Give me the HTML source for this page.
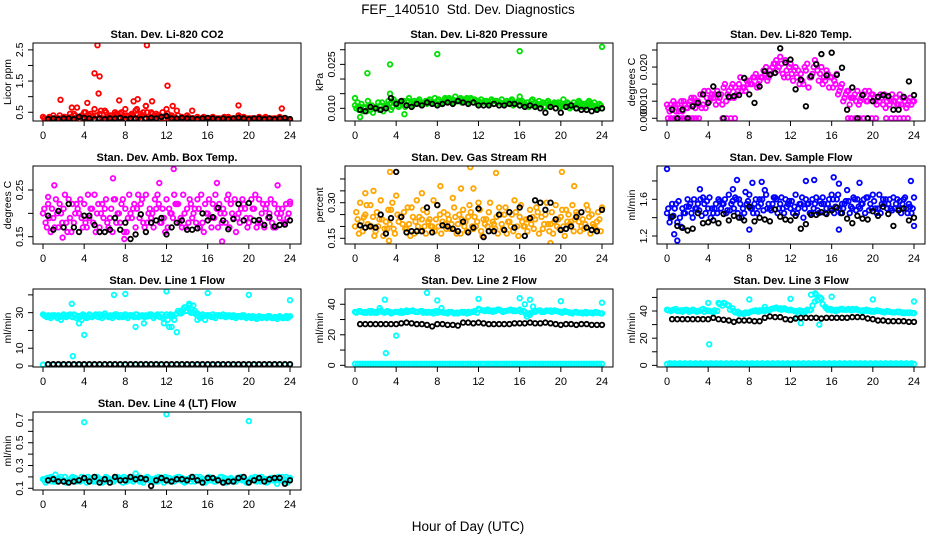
<!DOCTYPE html>
<html><head><meta charset="utf-8"><title>FEF_140510 Std. Dev. Diagnostics</title>
<style>
html,body{margin:0;padding:0;background:#fff;}
svg{display:block;font-family:"Liberation Sans",Arial,sans-serif;}
</style></head>
<body>
<svg id="chart" width="936" height="540" viewBox="0 0 936 540" xmlns="http://www.w3.org/2000/svg">
<rect x="0" y="0" width="936" height="540" fill="#fff"/>
<text x="468" y="14" text-anchor="middle" font-size="13.5">FEF_140510&#160; Std. Dev. Diagnostics</text>
<text x="468" y="531" text-anchor="middle" font-size="13.5">Hour of Day (UTC)</text>
</svg>
<script>
// ---- data ----
const xTicks = [0,4,8,12,16,20,24];
const titles = ["Stan. Dev. Li-820 CO2","Stan. Dev. Li-820 Pressure","Stan. Dev. Li-820 Temp.","Stan. Dev. Amb. Box Temp.","Stan. Dev. Gas Stream RH","Stan. Dev. Sample Flow","Stan. Dev. Line 1 Flow","Stan. Dev. Line 2 Flow","Stan. Dev. Line 3 Flow","Stan. Dev. Line 4 (LT) Flow"];
const yLabels = ["Licor ppm","kPa","degrees C","degrees C","percent","ml/min","ml/min","ml/min","ml/min","ml/min"];
const yMin = [0.22,0.00567,-0.0008,0.1344,0.126,1.113,-0.56,-1.1,-1.2,0.085];
const yMax = [2.72,0.0323,0.02205,0.3014,0.4547,1.963,43.3,50,56.2,0.77];
const yTicks = [[0.5,1,1.5,2,2.5],[0.01,0.015,0.02,0.025,0.03],[0,0.005,0.01,0.015,0.02],[0.15,0.2,0.25],[0.15,0.2,0.25,0.3,0.35,0.4],[1.2,1.4,1.6,1.8],[0,10,20,30,40],[0,10,20,30,40],[0,10,20,30,40,50],[0.1,0.2,0.3,0.4,0.5,0.6,0.7]];
const yTickLabels = [["0.5","","1.5","","2.5"],["0.010","","","0.025",""],["0.000","0.010","","0.020",""],["0.15","","0.25"],["0.15","","","0.30","",""],["1.2","","1.6",""],["0","10","","30",""],["0","","20","","40"],["0","","20","","40",""],["0.1","","0.3","","0.5","","0.7"]];
const colors = ["#ff0000","#00e000","#ff00ff","#ff00ff","#ffa500","#0000ff","#00ffff","#00ffff","#00ffff","#00ffff"];

const seriesA = [
[0.35,0.3,0.4,0.3,0.35,0.3,0.45,0.35,0.5,0.4,0.6,0.45,0.55,0.4,0.5,0.45,0.6,0.4,0.55,0.45,0.7,0.5,0.45,0.35,0.6,0.4,0.55,0.35,0.4,0.3,0.35,0.3,0.3,0.35,0.3,0.3,0.35,0.3,0.4,0.35,0.3,0.3,0.35,0.3,0.3,0.3,0.35,0.3,0.25],
[0.0110,0.0105,0.0100,0.0095,0.0105,0.0110,0.0100,0.0095,0.0115,0.0120,0.0110,0.0115,0.0120,0.0110,0.0115,0.0120,0.0125,0.0120,0.0125,0.0130,0.0125,0.0130,0.0125,0.0120,0.0125,0.0120,0.0120,0.0115,0.0120,0.0115,0.0120,0.0115,0.0110,0.0115,0.0110,0.0120,0.0110,0.0105,0.0110,0.0115,0.0105,0.0110,0.0105,0.0100,0.0105,0.0110,0.0105,0.0100,0.0100],
[0.004,0.003,0.004,0.002,0.003,0.004,0.005,0.004,0.008,0.006,0.005,0.009,0.008,0.006,0.010,0.009,0.011,0.012,0.011,0.013,0.014,0.016,0.018,0.017,0.016,0.015,0.013,0.014,0.012,0.016,0.015,0.014,0.012,0.013,0.010,0.008,0.006,0.008,0.007,0.005,0.007,0.006,0.004,0.006,0.005,0.004,0.006,0.005,0.005],
[0.20,0.22,0.19,0.17,0.21,0.23,0.18,0.20,0.22,0.19,0.24,0.17,0.21,0.19,0.23,0.18,0.21,0.20,0.17,0.22,0.24,0.19,0.21,0.18,0.23,0.20,0.22,0.17,0.21,0.19,0.23,0.18,0.20,0.22,0.17,0.21,0.24,0.19,0.20,0.22,0.18,0.21,0.23,0.17,0.20,0.22,0.19,0.18,0.22],
[0.20,0.30,0.25,0.29,0.18,0.31,0.22,0.27,0.33,0.24,0.19,0.28,0.31,0.23,0.26,0.20,0.29,0.22,0.25,0.32,0.21,0.27,0.24,0.19,0.30,0.23,0.26,0.21,0.28,0.25,0.22,0.31,0.24,0.20,0.27,0.23,0.30,0.25,0.21,0.29,0.24,0.27,0.22,0.26,0.20,0.29,0.25,0.22,0.28],
[1.45,1.55,1.35,1.5,1.6,1.4,1.55,1.62,1.5,1.45,1.6,1.55,1.65,1.5,1.6,1.45,1.65,1.55,1.6,1.7,1.5,1.62,1.55,1.6,1.5,1.65,1.55,1.6,1.45,1.62,1.55,1.5,1.65,1.6,1.55,1.7,1.5,1.6,1.55,1.62,1.65,1.5,1.6,1.55,1.62,1.5,1.6,1.55,1.62],
[29,28.5,28,28.5,29,28.5,29,28,28.5,29,28.5,29,29.5,28.5,29,28.5,29,28.5,29,28,28.5,29,28.5,29,29,28.5,29.5,30,31,30,29.5,29,28.5,29,28.5,29,28,28.5,28,28.5,28,27.5,28,27.5,28,27.5,28,27.5,28],
[35,35.5,35,34.5,35,36,35,34,35,35.5,36,35.5,35,35.5,34.5,35,34.5,35,34,34.5,34,34.5,35,35,37,36,35.5,36,36.5,35.5,36,36,36.5,35,33,35,36,35.5,36,35.5,35,35,34.5,35,34.5,34,34.5,34.5,34],
[41,40.5,40,39.5,40.5,41,40,41.5,40,39,46,46,44,40,38,38,39,40,40.5,40,41,42,42,41.5,41,40,39.5,40,41,52,49,42,40.5,41,41.5,41,41.5,41,40.5,40,40,40,39.5,39.5,39,39,39,38.5,38.5],
[0.18,0.17,0.19,0.18,0.17,0.16,0.18,0.17,0.19,0.18,0.17,0.18,0.16,0.18,0.19,0.17,0.18,0.17,0.18,0.16,0.18,0.17,0.19,0.17,0.18,0.17,0.18,0.19,0.17,0.18,0.17,0.18,0.17,0.19,0.18,0.17,0.18,0.17,0.18,0.17,0.16,0.18,0.17,0.18,0.17,0.18,0.17,0.18,0.19]
];
const seriesB = [
[0.25,0.3,0.25,0.3,0.3,0.35,0.3,0.4,0.3,0.35,0.4,0.3,0.35,0.3,0.45,0.3,0.35,0.4,0.3,0.5,0.35,0.3,0.4,0.3,0.35,0.3,0.25,0.3,0.25,0.3,0.3,0.25,0.3,0.3,0.25,0.3,0.25,0.3,0.3,0.25,0.3,0.25,0.3,0.3,0.25,0.3,0.25,0.25],
[0.0120,0.0090,0.0125,0.0085,0.0120,0.0090,0.0125,0.0130,0.0105,0.0125,0.0135,0.0125,0.0130,0.0120,0.0130,0.0135,0.0115,0.0135,0.0130,0.0140,0.0135,0.0130,0.0135,0.0125,0.0130,0.0125,0.0130,0.0125,0.0130,0.0125,0.0130,0.0120,0.0125,0.0120,0.0130,0.0115,0.0120,0.0125,0.0115,0.0120,0.0130,0.0115,0.0120,0.0125,0.0115,0.0125,0.0120,0.0115],
[0.002,0.004,0.003,0.004,0.005,0.003,0.007,0.003,0.006,0.004,0.007,0.005,0.009,0.007,0.008,0.011,0.010,0.009,0.012,0.011,0.015,0.014,0.013,0.012,0.011,0.014,0.010,0.009,0.015,0.011,0.012,0.009,0.011,0.008,0.006,0.004,0.007,0.005,0.008,0.006,0.005,0.007,0.003,0.005,0.006,0.004,0.003,0.004],
[0.18,0.16,0.23,0.20,0.18,0.16,0.22,0.19,0.17,0.21,0.20,0.22,0.18,0.16,0.20,0.23,0.19,0.21,0.24,0.18,0.20,0.17,0.22,0.19,0.21,0.24,0.18,0.20,0.23,0.21,0.17,0.22,0.19,0.24,0.20,0.18,0.22,0.16,0.21,0.19,0.23,0.17,0.20,0.22,0.18,0.20,0.21,0.19],
[0.23,0.18,0.21,0.24,0.20,0.16,0.27,0.19,0.22,0.26,0.21,0.17,0.24,0.20,0.23,0.18,0.25,0.21,0.19,0.24,0.17,0.22,0.26,0.20,0.18,0.23,0.19,0.24,0.21,0.17,0.25,0.20,0.22,0.18,0.24,0.26,0.19,0.21,0.17,0.23,0.20,0.25,0.18,0.22,0.19,0.24,0.20,0.23],
[1.35,1.5,1.4,1.45,1.55,1.5,1.6,1.45,1.4,1.55,1.5,1.45,1.55,1.6,1.4,1.55,1.5,1.45,1.6,1.5,1.55,1.45,1.5,1.55,1.45,1.5,1.4,1.55,1.5,1.45,1.55,1.6,1.45,1.5,1.55,1.45,1.6,1.5,1.45,1.55,1.5,1.45,1.6,1.5,1.55,1.45,1.5,1.45],
[28,27,28,26,27.5,28,27,26,27,27.5,28,27,28,27,28,27.5,27,28,27.5,28,28,27,28,24,22,26,30,33,34,31,27,26,28,27,28,27.5,28,27,27.5,27,27,26.5,27,27,27,26.5,27,27],
[1,1,1,1,1,1,1,1,1,1,1,1,1,1,1,1,1,1,1,1,1,1,1,1,1,1,1,1,1,1,1,1,1,1,1,1,1,1,1,1,1,1,1,1,1,1,1,1],
[1.5,1.5,1.5,1.5,1.5,1.5,1.5,1.5,1.5,1.5,1.5,1.5,1.5,1.5,1.5,1.5,1.5,1.5,1.5,1.5,1.5,1.5,1.5,1.5,1.5,1.5,1.5,1.5,1.5,1.5,1.5,1.5,1.5,1.5,1.5,1.5,1.5,1.5,1.5,1.5,1.5,1.5,1.5,1.5,1.5,1.5,1.5,1.5],
[0.15,0.2,0.16,0.2,0.15,0.19,0.16,0.2,0.15,0.18,0.2,0.15,0.19,0.16,0.2,0.15,0.19,0.16,0.2,0.15,0.19,0.16,0.2,0.15,0.19,0.16,0.2,0.15,0.19,0.16,0.2,0.15,0.19,0.16,0.2,0.15,0.19,0.16,0.2,0.15,0.19,0.16,0.2,0.15,0.19,0.14,0.2,0.15]
];
const seriesC = [
[0.3,0.35,0.3,0.4,0.35,0.45,0.4,0.35,0.5,0.45,0.4,0.55,0.5,0.4,0.45,0.5,0.4,0.45,0.6,0.4,0.5,0.45,0.4,0.5,0.45,0.35,0.4,0.3,0.35,0.3,0.3,0.35,0.3,0.3,0.3,0.35,0.3,0.3,0.35,0.3,0.3,0.3,0.3,0.35,0.3,0.3,0.3,0.3],
[0.0100,0.0115,0.0090,0.0110,0.0100,0.0120,0.0110,0.0105,0.0120,0.0115,0.0125,0.0110,0.0125,0.0115,0.0125,0.0120,0.0130,0.0125,0.0135,0.0120,0.0130,0.0125,0.0120,0.0130,0.0120,0.0125,0.0115,0.0125,0.0120,0.0115,0.0125,0.0115,0.0120,0.0110,0.0125,0.0110,0.0115,0.0120,0.0110,0.0115,0.0110,0.0120,0.0110,0.0115,0.0110,0.0120,0.0110,0.0105],
[0.003,0.005,0.002,0.005,0.004,0.006,0.004,0.008,0.005,0.007,0.006,0.010,0.006,0.009,0.012,0.008,0.010,0.013,0.012,0.015,0.013,0.017,0.016,0.014,0.013,0.012,0.011,0.016,0.013,0.014,0.010,0.013,0.009,0.007,0.005,0.008,0.006,0.004,0.007,0.008,0.006,0.005,0.007,0.004,0.005,0.007,0.005,0.006],
[0.21,0.19,0.17,0.22,0.24,0.19,0.20,0.23,0.18,0.21,0.16,0.20,0.23,0.21,0.18,0.22,0.16,0.19,0.21,0.23,0.18,0.20,0.24,0.21,0.17,0.19,0.22,0.24,0.18,0.20,0.21,0.16,0.23,0.19,0.22,0.20,0.17,0.23,0.18,0.21,0.19,0.24,0.18,0.21,0.23,0.17,0.20,0.22],
[0.26,0.22,0.29,0.20,0.26,0.23,0.19,0.30,0.25,0.21,0.28,0.24,0.20,0.27,0.22,0.31,0.20,0.26,0.23,0.28,0.25,0.20,0.29,0.24,0.27,0.21,0.30,0.19,0.25,0.28,0.20,0.26,0.29,0.23,0.21,0.28,0.24,0.30,0.26,0.20,0.27,0.22,0.29,0.25,0.23,0.27,0.21,0.26],
[1.5,1.42,1.58,1.45,1.52,1.6,1.48,1.55,1.62,1.5,1.58,1.6,1.48,1.62,1.55,1.68,1.5,1.6,1.55,1.65,1.48,1.6,1.62,1.52,1.58,1.45,1.62,1.55,1.6,1.48,1.62,1.55,1.6,1.65,1.5,1.58,1.62,1.52,1.6,1.48,1.58,1.65,1.55,1.6,1.5,1.58,1.62,1.52],
[28.5,28,28.5,27.5,28,29,28.5,27.5,28,28.5,29,28,28.5,28,29,28.5,28,28.5,29,28.5,28,28.5,29,27,26,28,31,32,32.5,30,28.5,28,28.5,28,28.5,28,28.5,28,28,28,27.5,27.5,27.5,27.5,27.5,27.5,27.5,28],
[34.5,35,34.5,35.5,34.5,35,35.5,34.5,35,34.5,35,36,35,34.5,35,34,35,34.5,35,34,34.5,35,34.5,35.5,36.5,35.5,36,35.5,36,35.5,36.5,35.5,35,33.5,34.5,35.5,35,36,35,35.5,34.5,35,34,34.5,34,34.5,34,34.5],
[40.5,41,40,40.5,39.5,40.5,40,39.5,40,40.5,45,45.5,41,39,38.5,39,39.5,40.5,40,41,41.5,42.5,41,41,40.5,39.5,40,41,44,48,45,41,41,40.5,41,41.5,41,40.5,40,40.5,39.5,40,39,39.5,39,39.5,38.5,39],
[0.17,0.19,0.16,0.18,0.2,0.17,0.19,0.16,0.18,0.19,0.16,0.18,0.2,0.17,0.18,0.19,0.16,0.18,0.19,0.17,0.2,0.18,0.16,0.19,0.17,0.18,0.2,0.16,0.18,0.19,0.17,0.18,0.2,0.16,0.17,0.19,0.18,0.16,0.19,0.18,0.17,0.2,0.16,0.18,0.19,0.17,0.18,0.2]
];
const seriesD = [
[0.25,0.3,0.3,0.25,0.3,0.3,0.35,0.3,0.3,0.35,0.3,0.3,0.35,0.3,0.3,0.35,0.3,0.3,0.35,0.3,0.3,0.35,0.3,0.3,0.3,0.25,0.3,0.3,0.25,0.25,0.3,0.3,0.25,0.3,0.3,0.25,0.3,0.3,0.25,0.3,0.3,0.25,0.3,0.25,0.3,0.25,0.3,0.25],
[0.0095,0.0105,0.0110,0.0100,0.0095,0.0105,0.0115,0.0120,0.0110,0.0105,0.0115,0.0120,0.0115,0.0125,0.0120,0.0115,0.0120,0.0130,0.0120,0.0125,0.0120,0.0135,0.0130,0.0115,0.0120,0.0115,0.0125,0.0120,0.0115,0.0120,0.0110,0.0125,0.0115,0.0105,0.0115,0.0125,0.0105,0.0115,0.0120,0.0105,0.0115,0.0100,0.0110,0.0120,0.0105,0.0115,0.0105,0.0110],
[0.004,0.002,0.005,0.003,0.006,0.005,0.003,0.006,0.007,0.008,0.004,0.007,0.010,0.008,0.009,0.010,0.012,0.010,0.014,0.012,0.016,0.015,0.012,0.015,0.014,0.010,0.015,0.012,0.017,0.013,0.011,0.012,0.010,0.009,0.007,0.006,0.005,0.006,0.005,0.007,0.004,0.006,0.005,0.007,0.004,0.006,0.004,0.005],
[0.17,0.21,0.20,0.18,0.16,0.22,0.21,0.17,0.24,0.18,0.22,0.19,0.17,0.23,0.20,0.16,0.24,0.22,0.19,0.17,0.21,0.23,0.18,0.16,0.20,0.22,0.19,0.17,0.22,0.18,0.24,0.20,0.17,0.21,0.18,0.23,0.20,0.19,0.23,0.17,0.21,0.18,0.22,0.19,0.17,0.21,0.18,0.20],
[0.17,0.24,0.20,0.16,0.23,0.19,0.21,0.17,0.24,0.19,0.16,0.22,0.18,0.17,0.20,0.23,0.17,0.19,0.21,0.17,0.23,0.18,0.20,0.22,0.16,0.20,0.22,0.17,0.19,0.22,0.18,0.16,0.20,0.23,0.19,0.17,0.21,0.18,0.22,0.19,0.16,0.21,0.23,0.18,0.21,0.17,0.19,0.18],
[1.4,1.55,1.3,1.52,1.45,1.5,1.42,1.58,1.5,1.45,1.55,1.48,1.58,1.45,1.5,1.58,1.45,1.52,1.48,1.55,1.62,1.5,1.45,1.58,1.52,1.55,1.5,1.45,1.55,1.58,1.45,1.5,1.52,1.45,1.58,1.52,1.48,1.55,1.62,1.5,1.45,1.55,1.5,1.48,1.6,1.55,1.45,1.5],
[27.5,28.5,27,28,28.5,27.5,28,29,27.5,28,27.5,28.5,27.5,28.5,27.5,28,28.5,27.5,28,27.5,29,28,27.5,28,29,29,29.5,31,30,29,28,28.5,27.5,28.5,28,28.5,27.5,28,28.5,27.5,28,27,27.5,28,27,27.5,27,27.5],
[35.5,34.5,35.5,34.5,35.5,34.5,35,35,34.5,35,35.5,35,35.5,35,34.5,35.5,35,34.5,35,34.5,35,34,35,34.5,36,36.5,35,36.5,35,36,35.5,36,35.5,34,35.5,36,35,35.5,36,35,35.5,34.5,35,34.5,35,34.5,35,34],
[40,41.5,40.5,41,40,39.5,41,40.5,39.5,40,44,44.5,42,39.5,38,38.5,40,39.5,41,40.5,42,41.5,42,40.5,40,40.5,39,40.5,47,50,43,41.5,40,41.5,41,40.5,41.5,40,41,39.5,40.5,39.5,40,39,39.5,38.5,39,38.5],
[0.19,0.16,0.18,0.17,0.16,0.2,0.17,0.18,0.2,0.16,0.19,0.17,0.18,0.16,0.19,0.2,0.17,0.19,0.16,0.19,0.17,0.16,0.18,0.2,0.16,0.19,0.17,0.18,0.16,0.2,0.18,0.16,0.17,0.18,0.2,0.17,0.16,0.19,0.17,0.16,0.19,0.17,0.18,0.16,0.17,0.2,0.16,0.18]
];
const outlierHours = [
[5.3,10.1,5,5.5,5.4,12.1,1.7,7.4,9.2,10.6,4.3,19,23.2,2.8,3.3,8.8,10,12.6,14.5],
[0,1.2,3.4,3.4,8,16,16,24,0.5,4.8],
[0.1,0.4,0.7,1,1.3,1.6,1.9,2.2,2.5,2.8,3.1,5.4,5.8,6.2,6.6,17.6,17.9,18.3,18.7,19.1,19.5,19.9,20.3,21.3,21.8,22.2,22.6,23,23.4],
[1.1,6.8,11.3,12.7,16.9,22.8,17.4,1.9,0.5,7.9,24],
[3.4,11.2,13.7,20.1,8.3,11.5,21.3,19,3.3,1,1.8,6.5,10.3],
[0,1,0.7,6.8,8.3,9.2,13.5,14.3,16.2,16.7,18.7,23.7,8,16.7,24,3.2,6.4],
[2.8,2.9,4,6.9,8,12,16,20,24,9,13,12.5,14.2,14.6,3.5,9.8,15],
[2.9,3,4,7,8,12,16,16.5,17,17.3,20,24,2.4,8.4,16.7],
[4.1,4,8,12,14,14.4,16,20,24,13,14.8,12.6,9.5],
[4,12,20,9,1.2]
];
const outlierValues = [
[2.65,2.65,1.75,1.65,1.1,1.35,0.9,0.88,0.92,0.85,0.8,0.72,0.62,0.65,0.65,0.85,0.7,0.7,0.55],
[0.0135,0.022,0.025,0.015,0.0285,0.0295,0.014,0.031,0.007,0.008],
[0,0,0,0,0,0,0,0,0,0,0,0,0,0,0,0,0,0,0,0,0,0,0,0,0,0,0,0,0],
[0.26,0.275,0.265,0.295,0.265,0.26,0.14,0.148,0.235,0.145,0.225],
[0.43,0.45,0.425,0.43,0.37,0.36,0.37,0.13,0.14,0.34,0.35,0.34,0.36],
[1.93,1.15,1.22,1.81,1.78,1.79,1.8,1.81,1.84,1.77,1.78,1.8,1.27,1.27,1.31,1.71,1.71],
[35,5.5,17.5,40,40.5,42,41,40,37,22,19,22,35,34,24,24,26],
[43,8,19.5,47.5,42.5,43.5,44,40,43,38.5,42,41,37.5,37.5,32],
[15.5,46,48.5,49,52,53,50.5,48.5,47,31,30,35,43],
[0.68,0.75,0.69,0.23,0.22]
];
const seriesBlack = [
[0.28,0.3,0.28,0.3,0.3,0.28,0.35,0.32,0.3,0.28,0.3,0.28,0.3,0.3,0.32,0.28,0.3,0.3,0.28,0.3,0.32,0.3,0.35,0.38,0.3,0.3,0.32,0.3,0.3,0.28,0.3,0.32,0.3,0.28,0.3,0.28,0.3,0.32,0.3,0.28,0.3,0.3,0.28,0.3,0.28,0.3,0.32,0.28],
[0.0095,0.0090,0.0105,0.0100,0.0095,0.0100,0.0135,0.0115,0.0125,0.0110,0.0105,0.0115,0.0110,0.0120,0.0115,0.0110,0.0115,0.0120,0.0115,0.0125,0.0120,0.0115,0.0120,0.0110,0.0110,0.0110,0.0115,0.0110,0.0110,0.0115,0.0115,0.0110,0.0105,0.0110,0.0105,0.0100,0.0085,0.0105,0.0100,0.0085,0.0105,0.0110,0.0100,0.0095,0.0095,0.0090,0.0095,0.0100],
[0.0025,0.0,0.0025,0.0,0.0035,0.0045,0.007,0.0045,0.0093,0.007,0.0,0.0063,0.0065,0.0068,0.0118,0.007,0.0045,0.0093,0.0138,0.0128,0.0133,0.0205,0.0163,0.0172,0.0085,0.0113,0.0035,0.0123,0.0158,0.0188,0.0126,0.0192,0.0127,0.0148,0.0025,0.009,0.0,0.0068,0.0,0.005,0.0063,0.0068,0.0065,0.0025,0.0025,0.0063,0.0108,0.0068],
[0.195,0.165,0.205,0.17,0.22,0.17,0.16,0.195,0.195,0.175,0.16,0.16,0.165,0.19,0.165,0.18,0.145,0.155,0.198,0.16,0.18,0.185,0.19,0.155,0.17,0.18,0.185,0.165,0.165,0.168,0.2,0.185,0.192,0.212,0.185,0.166,0.188,0.22,0.185,0.222,0.185,0.186,0.175,0.192,0.172,0.175,0.176,0.185],
[0.205,0.195,0.2,0.195,0.25,0.17,0.235,0.43,0.24,0.175,0.18,0.18,0.18,0.28,0.175,0.29,0.205,0.2,0.19,0.18,0.22,0.175,0.195,0.275,0.155,0.18,0.18,0.25,0.185,0.26,0.195,0.28,0.16,0.235,0.31,0.3,0.27,0.3,0.23,0.185,0.19,0.2,0.24,0.26,0.195,0.185,0.18,0.27],
[1.41,1.31,1.29,1.26,1.28,1.45,1.34,1.35,1.37,1.34,1.44,1.37,1.42,1.4,1.37,1.52,1.36,1.4,1.38,1.36,1.49,1.41,1.38,1.37,1.42,1.28,1.33,1.43,1.43,1.46,1.44,1.48,1.51,1.45,1.39,1.34,1.42,1.39,1.38,1.47,1.42,1.52,1.44,1.31,1.48,1.5,1.37,1.4],
[1,1,1,1,1,1,1,1,1,1,1,1,1,1,1,1,1,1,1,1,1,1,1,1,1,1,1,1,1,1,1,1,1,1,1,1,1,1,1,1,1,1,1,1,1,1,1,1],
[27,27,27,27,27,27,27,27,27.5,28,27.5,27,27,26.5,25.5,27,27,26.5,26.5,26,28,28,27.5,28,27.5,27,27,27,27,27,27.5,27.5,27.5,28,27.5,27.5,28,27.5,27,26.5,27,27,26.5,27,27,26.5,26.5,26.5],
[34,34,34,34,34,34,34,34,35,34,33.5,33,32,33,33,33,32.5,32.5,35,36,35.5,35.5,34,33.5,34.5,35,35,35,35,34.5,35,35,35,35,35,35.5,35.5,35.5,34.5,34,33,33,32.5,32.5,32.5,32.5,32,32],
[0.17,0.18,0.16,0.16,0.15,0.16,0.17,0.19,0.16,0.2,0.15,0.18,0.15,0.2,0.17,0.17,0.2,0.18,0.19,0.18,0.12,0.17,0.19,0.17,0.16,0.18,0.18,0.17,0.2,0.17,0.15,0.19,0.19,0.17,0.15,0.16,0.16,0.19,0.2,0.15,0.17,0.19,0.16,0.18,0.19,0.19,0.14,0.17]
];
const lowBaseline = [null,null,null,null,null,null,0.8,1,1,null];

// ---- drawing ----
const NS = "http://www.w3.org/2000/svg";
const svg = document.getElementById("chart");
function mk(tag, attrs, parent){
  const e = document.createElementNS(NS, tag);
  for (const k in attrs) e.setAttribute(k, attrs[k]);
  (parent||svg).appendChild(e);
  return e;
}
function dot(g, x, y, col, name){
  const c = mk("circle", {cx:x.toFixed(1), cy:y.toFixed(1), r:2.3, fill:"none", stroke:col, "stroke-width":1.8}, g);
  
  
}

for (let p = 0; p < 10; p++) {
  const col = p % 3, row = Math.floor(p / 3);
  const x0 = 33 + 312*col, x1 = 301 + 312*col;
  const y0 = 43 + 123*row, y1 = 121 + 123*row;
  const xs = h => x0 + 10 + h * (247/24);
  const ys = v => y1 - (v - yMin[p]) / (yMax[p] - yMin[p]) * (y1 - y0);
  const g = mk("g", {});
  
  
  const clipId = "clip" + p;
  const cp = mk("clipPath", {id: clipId}, g);
  mk("rect", {x:x0, y:y0, width:x1-x0, height:y1-y0}, cp);

  const t = mk("text", {x:(x0+x1)/2, y:y0-5, "text-anchor":"middle", "font-size":11, "font-weight":"bold"}, g);
  t.textContent = titles[p];
  
  

  const yl = mk("text", {x:x0-22, y:(y0+y1)/2, "text-anchor":"middle", "font-size":10.5, transform:"rotate(-90 "+(x0-22)+" "+((y0+y1)/2)+")"}, g);
  yl.textContent = yLabels[p];
  
  

  const pg = mk("g", {"clip-path":"url(#"+clipId+")"}, g);
  
  
  if (lowBaseline[p] !== null) {
    seriesA[p].forEach((v,i) => dot(pg, xs(i*0.5), ys(lowBaseline[p]), colors[p], 'point-baseline'));
  }
  seriesD[p].forEach((v,i) => dot(pg, xs(0.375 + i*0.5), ys(v), colors[p], 'point-d'));
  seriesC[p].forEach((v,i) => dot(pg, xs(0.125 + i*0.5), ys(v), colors[p], 'point-c'));
  seriesB[p].forEach((v,i) => dot(pg, xs(0.25 + i*0.5), ys(v), colors[p], 'point-b'));
  seriesA[p].forEach((v,i) => dot(pg, xs(i*0.5), ys(v), colors[p], 'point-a'));
  outlierHours[p].forEach((h,i) => dot(pg, xs(h), ys(outlierValues[p][i]), colors[p], 'point-outlier'));
  seriesBlack[p].forEach((v,i) => dot(pg, xs(0.5 + i*0.5), ys(v), "#000", 'point-hourly-mean'));

  const box = mk("rect", {x:x0, y:y0, width:x1-x0, height:y1-y0, fill:"none", stroke:"#000", "stroke-width":1}, g);
  
  

  const xa = mk("g", {}, g);
  
  
  mk("line", {x1:xs(xTicks[0]), x2:xs(xTicks[xTicks.length-1]), y1:y1, y2:y1, stroke:"#000"}, xa);
  xTicks.forEach(h => {
    mk("line", {x1:xs(h), x2:xs(h), y1:y1, y2:y1+5, stroke:"#000"}, xa);
    const tl = mk("text", {x:xs(h), y:y1+18, "text-anchor":"middle", "font-size":11}, xa);
    tl.textContent = h;
    
    
  });
  const ya = mk("g", {}, g);
  
  
  const tv = yTicks[p];
  mk("line", {x1:x0, x2:x0, y1:ys(tv[0]), y2:ys(tv[tv.length-1]), stroke:"#000"}, ya);
  tv.forEach((v,i) => {
    mk("line", {x1:x0-5, x2:x0, y1:ys(v), y2:ys(v), stroke:"#000"}, ya);
    const lab = yTickLabels[p][i];
    if (lab) {
      const tx = x0 - 10, ty = ys(v);
      const tl = mk("text", {x:tx, y:ty, "text-anchor":"middle", "font-size":10.5, transform:"rotate(-90 "+tx+" "+ty+")"}, ya);
      tl.textContent = lab;
      
      
    }
  });
  const d = mk("circle", {cx:xs(12), cy:y1+16, r:0.6, fill:"#000"}, g);
  
  
}
</script>
</body></html>
